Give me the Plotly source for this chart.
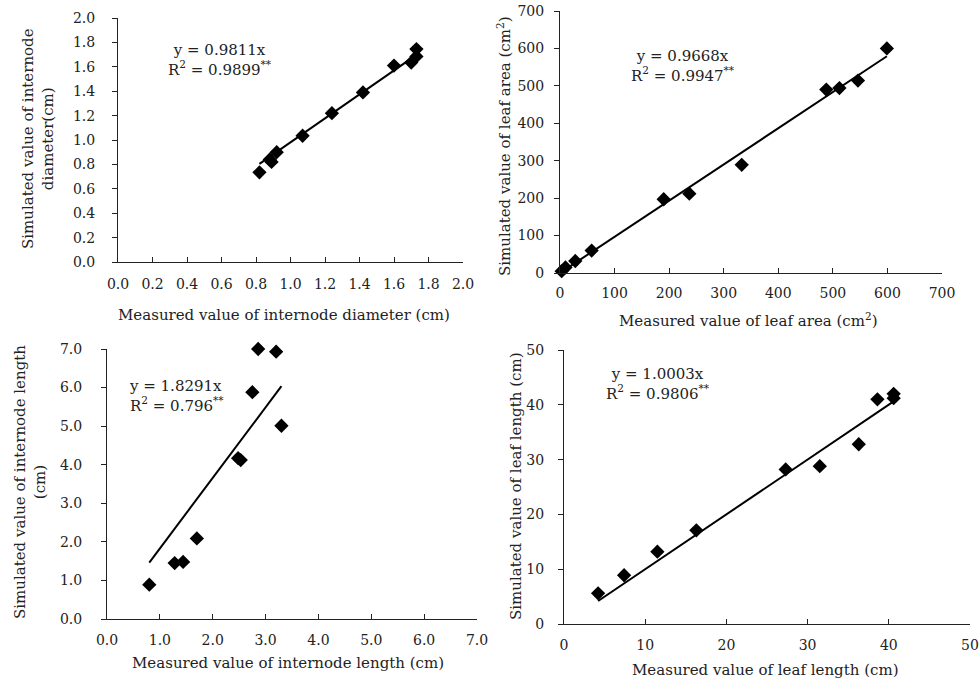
import plotly.graph_objects as go

# ---- data ----
diam_meas = [0.82, 0.88, 0.89, 0.92, 1.07, 1.24, 1.42, 1.60, 1.70, 1.73, 1.73]
diam_sim = [0.735, 0.84, 0.82, 0.90, 1.035, 1.22, 1.39, 1.61, 1.635, 1.745, 1.685]
diam_slope = 0.9811

area_meas = [3, 10, 28, 58, 190, 237, 333, 488, 512, 546, 599]
area_sim = [5, 15, 32, 60, 197, 212, 289, 490, 494, 514, 600]
area_slope = 0.9668

len_meas = [0.80, 1.28, 1.44, 1.70, 2.48, 2.53, 2.75, 2.86, 3.20, 3.30]
len_sim = [0.89, 1.45, 1.48, 2.09, 4.17, 4.12, 5.88, 7.0, 6.93, 5.01]
len_slope = 1.8291

leaf_meas = [4.2, 7.4, 11.5, 16.3, 27.3, 31.5, 36.3, 38.6, 40.6, 40.6]
leaf_sim = [5.6, 8.9, 13.2, 17.1, 28.2, 28.8, 32.8, 41.0, 42.0, 41.2]
leaf_slope = 1.0003

FONT = "DejaVu Serif"
TXT = "#222222"

W, H = 979, 681


def px_x(a, b):
    return [a / W, b / W]


def px_y(top, bottom):
    return [1 - bottom / H, 1 - top / H]


fig = go.Figure()

panels = [
    (diam_meas, diam_sim, diam_slope, "x", "y"),
    (area_meas, area_sim, area_slope, "x2", "y2"),
    (len_meas, len_sim, len_slope, "x3", "y3"),
    (leaf_meas, leaf_sim, leaf_slope, "x4", "y4"),
]

for xm, ys, k, xa, ya in panels:
    lo, hi = min(xm), max(xm)
    fig.add_trace(go.Scatter(x=[lo, hi], y=[k * lo, k * hi], mode="lines",
                             line=dict(color="black", width=2),
                             xaxis=xa, yaxis=ya, showlegend=False, hoverinfo="skip"))
    fig.add_trace(go.Scatter(x=xm, y=ys, mode="markers",
                             marker=dict(symbol="diamond", size=11, color="black"),
                             xaxis=xa, yaxis=ya, showlegend=False, cliponaxis=False))

common = dict(showline=True, linecolor="#222222", linewidth=1, showgrid=False,
              zeroline=False, ticks="outside", ticklen=5, tickcolor="#222222",
              tickfont=dict(family=FONT, size=14, color=TXT), mirror=False,
              automargin=False)

xcommon = dict(common)
xcommon["ticks"] = "inside"

fig.update_layout(
    template="none",
    width=W, height=H, margin=dict(l=0, r=0, t=0, b=0),
    paper_bgcolor="white", plot_bgcolor="white",
    xaxis=dict(xcommon, domain=px_x(118, 463), range=[0, 2], dtick=0.2, tickformat=".1f",
               anchor="y", ticklabelstandoff=9),
    yaxis=dict(common, domain=px_y(18, 262), range=[0, 2], dtick=0.2, tickformat=".1f",
               anchor="x", ticklabelstandoff=14),
    xaxis2=dict(xcommon, domain=px_x(560, 942), range=[0, 700], dtick=100,
                anchor="y2", ticklabelstandoff=7),
    yaxis2=dict(common, domain=px_y(11, 273), range=[0, 700], dtick=100,
                anchor="x2", ticklabelstandoff=7),
    xaxis3=dict(xcommon, domain=px_x(107, 477), range=[0, 7], dtick=1, tickformat=".1f",
                anchor="y3", ticklabelstandoff=8),
    yaxis3=dict(common, domain=px_y(349, 619), range=[0, 7], dtick=1, tickformat=".1f",
                anchor="x3", ticklabelstandoff=16),
    xaxis4=dict(xcommon, domain=px_x(564, 970), range=[0, 50], dtick=10,
                anchor="y4", ticklabelstandoff=8),
    yaxis4=dict(common, domain=px_y(350, 624), range=[0, 50], dtick=10,
                anchor="x4", ticklabelstandoff=11),
)

ann = []


def add_text(text, x, y, size=15, angle=0, xanchor="center", align="center"):
    ann.append(dict(text=text, x=x / W, y=1 - y / H, xref="paper", yref="paper",
                    showarrow=False, textangle=angle, xanchor=xanchor, yanchor="middle",
                    align=align, font=dict(family=FONT, size=size, color=TXT)))


# x-axis titles
add_text("Measured value of internode diameter (cm)", 284, 315)
add_text("Measured value of leaf area (cm<sup>2</sup>)", 748, 320)
add_text("Measured value of internode length (cm)", 288, 663)
add_text("Measured value of leaf length (cm)", 765, 670)

# y-axis titles
add_text("Simulated value of internode<br>diameter(cm)", 38, 139, angle=-90)
add_text("Simulated value of leaf area (cm<sup>2</sup>)", 504, 146, angle=-90)
add_text("Simulated value of internode length<br>(cm)", 30, 482, angle=-90)
add_text("Simulated value of leaf length (cm)", 516, 486, angle=-90)

# equations
add_text("y = %.4fx<br>R<sup>2</sup> = 0.9899<sup>**</sup>" % diam_slope, 220, 60)
add_text("y = %.4fx<br>R<sup>2</sup> = 0.9947<sup>**</sup>" % area_slope, 683, 66)
add_text("y = %.4fx<br>R<sup>2</sup> = 0.796<sup>**</sup>" % len_slope, 127, 396,
         xanchor="left", align="left")
add_text("y = %.4fx<br>R<sup>2</sup> = 0.9806<sup>**</sup>" % leaf_slope, 658, 384)

fig.update_layout(annotations=ann)

fig.write_html("out.html", config={"displayModeBar": False},
               post_script="document.body.style.margin='0';document.body.style.overflow='hidden';")
